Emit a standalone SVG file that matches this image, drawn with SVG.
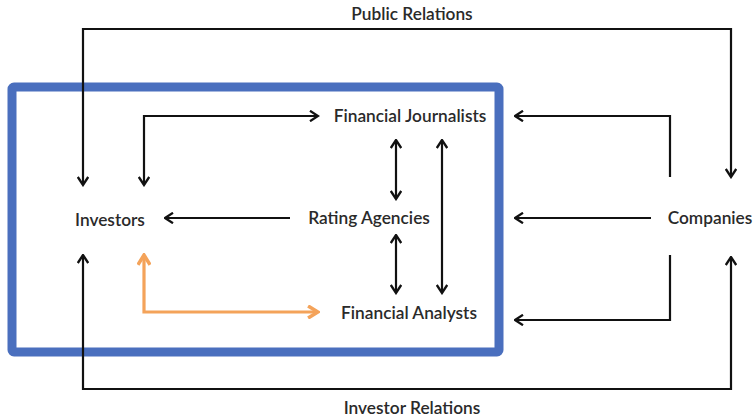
<svg xmlns="http://www.w3.org/2000/svg" width="755" height="419" viewBox="0 0 755 419">
<style>
.t{font-family:Lato,"Open Sans","Liberation Sans",sans-serif;font-size:17.3px;font-weight:600;fill:#2a2a2a;text-anchor:middle}
.c{fill:none;stroke:#111;stroke-width:2.2}
.o{fill:none;stroke:#F4A35A;stroke-width:3.2}
</style>
<defs>
<marker id="a" viewBox="0 0 12 12" refX="10.5" refY="6" markerWidth="12" markerHeight="12" markerUnits="userSpaceOnUse" orient="auto-start-reverse">
<path d="M2.5,0.8 L10.5,6 L2.5,11.2" fill="none" stroke="#111" stroke-width="2.3"/>
</marker>
<marker id="ao" viewBox="0 0 12 12" refX="10.5" refY="6" markerWidth="14" markerHeight="14" markerUnits="userSpaceOnUse" orient="auto-start-reverse">
<path d="M2,0.8 L10.5,6 L2,11.2" fill="none" stroke="#F4A35A" stroke-width="3"/>
</marker>
</defs>
<rect id="box" x="12" y="87" width="487" height="265" rx="2" fill="none" stroke="#4A6FBE" stroke-width="9"/>
<g id="connectors">
<path class="c" d="M731,177 V29 H83 V185" marker-start="url(#a)" marker-end="url(#a)"/>
<path class="c" d="M731,257 V389 H83 V255" marker-start="url(#a)" marker-end="url(#a)"/>
<path class="c" d="M144,185 V116 H318" marker-start="url(#a)" marker-end="url(#a)"/>
<path class="c" d="M670,177 V116 H515" marker-end="url(#a)"/>
<path class="c" d="M651,218 H515" marker-end="url(#a)"/>
<path class="c" d="M670,255 V320 H515" marker-end="url(#a)"/>
<path class="c" d="M290,218 H165" marker-end="url(#a)"/>
<path class="c" d="M396,140 V199" marker-start="url(#a)" marker-end="url(#a)"/>
<path class="c" d="M396,235 V293" marker-start="url(#a)" marker-end="url(#a)"/>
<path class="c" d="M442,140 V293" marker-start="url(#a)" marker-end="url(#a)"/>
<path class="o" d="M144,255 V312 H318" marker-start="url(#ao)" marker-end="url(#ao)"/>
</g>
<g id="public-relations"><text class="t" x="412" y="20">Public Relations</text></g>
<g id="investor-relations"><text class="t" x="412" y="414">Investor Relations</text></g>
<g id="financial-journalists"><text class="t" x="410" y="122">Financial Journalists</text></g>
<g id="rating-agencies"><text class="t" x="369" y="224">Rating Agencies</text></g>
<g id="investors"><text class="t" x="110" y="226">Investors</text></g>
<g id="companies"><text class="t" x="710" y="224">Companies</text></g>
<g id="financial-analysts"><text class="t" x="409" y="319">Financial Analysts</text></g>
</svg>
